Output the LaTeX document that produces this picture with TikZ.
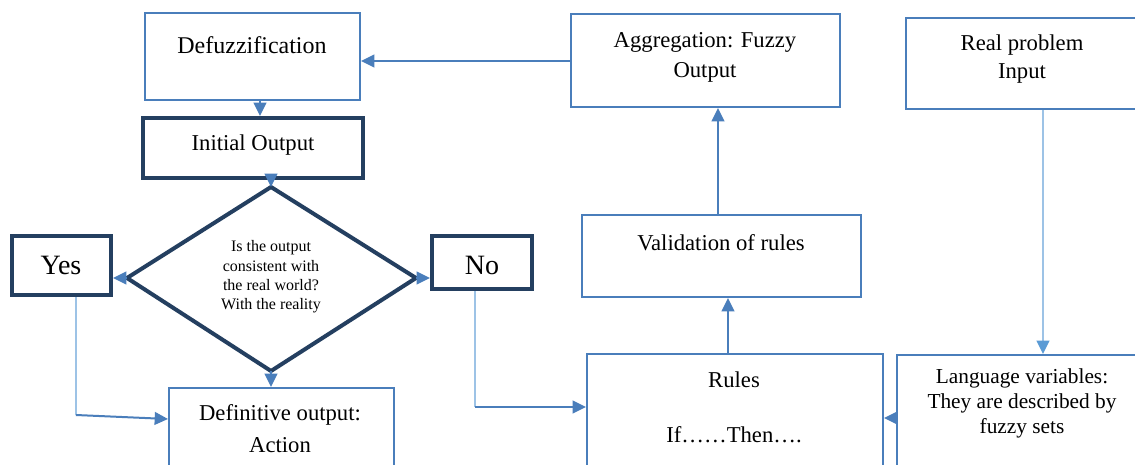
\documentclass[tikz,border=0pt]{standalone}
\usepackage{fontspec}
\setmainfont{Liberation Serif}
\usetikzlibrary{arrows.meta,fit,calc}
\definecolor{boxblue}{HTML}{4A7EBB}
\definecolor{darknavy}{HTML}{243F60}
\definecolor{arrowblue}{HTML}{4A7EBB}
\definecolor{lightblue}{HTML}{9DC3E6}
\definecolor{lighthead}{HTML}{5B9BD5}
\tikzset{
  thinbox/.style={draw=boxblue, line width=1.5pt, inner sep=0pt},
  thickbox/.style={draw=darknavy, line width=3pt, inner sep=0pt},
  thickdia/.style={draw=darknavy, line width=3pt, line join=miter},
  txt/.style={font=\fontsize{17}{20}\selectfont, inner sep=0pt, align=center},
  dtxt/.style={font=\fontsize{12}{14.5}\selectfont, inner sep=0pt, align=center},
  bigtxt/.style={font=\fontsize{21}{24}\selectfont, inner sep=0pt},
  arr/.style={draw=arrowblue, line width=1.5pt, -{Triangle[length=10pt,width=9.5pt]}},
  lightln/.style={draw=lightblue, line width=1.3pt},
  lightarr/.style={draw=lightblue, line width=1.3pt, -{Triangle[length=10pt,width=9.5pt,color=lighthead]}},
}
\begin{document}
\begin{tikzpicture}[x=0.75pt,y=-0.75pt]
\useasboundingbox (0,0) rectangle (1135,464);
\clip (0,0) rectangle (1135,464);
\fill[white] (0,0) rectangle (1135,464);

% boxes
\node[thinbox, fit={(145,13) (360,100)}] (defz) {};
\node[thickbox, fit={(143,118) (363,178)}] (init) {};
\node[thinbox, fit={(571,14) (840,107)}] (agg) {};
\node[thinbox, fit={(906,18) (1150,109)}] (real) {};
\node[thinbox, fit={(582,215) (861,297)}] (valid) {};
\node[thinbox, fit={(587,354) (883,480)}] (rules) {};
\node[thinbox, fit={(897,355) (1150,480)}] (lang) {};
\node[thickbox, fit={(12,236) (111,295)}] (yes) {};
\node[thickbox, fit={(432,236) (532,289)}] (no) {};
\node[thinbox, fit={(169,388) (394,480)}] (def) {};

% diamond
\coordinate (dtop) at (271,187);
\coordinate (dbot) at (271,371);
\coordinate (dleft) at (127,278);
\coordinate (dright) at (416,278);
\draw[thickdia] (dtop) -- (dright) -- (dbot) -- (dleft) -- cycle;

% texts
\node[txt, font=\fontsize{18}{20}\selectfont] (tdefz) at (252,45) {Defuzzification};
\node[txt] (tinit) at (253,145) {Initial Output};
\node[txt, font=\fontsize{17}{22.5}\selectfont] (tagg) at (705,57) {Aggregation: Fuzzy\\Output};
\node[txt, font=\fontsize{17}{21}\selectfont] (treal) at (1022,59) {Real problem\\Input};
\node[txt] (tvalid) at (721,243) {Validation of rules};
\node[txt, font=\fontsize{17}{41.25}\selectfont] (trules) at (734,407.5) {Rules\\If……Then….};
\node[txt, font=\fontsize{16}{18.75}\selectfont] (tlang) at (1022,403) {Language variables:\\They are described by\\fuzzy sets};
\node[txt, font=\fontsize{17}{24}\selectfont] (tdef) at (280,429) {Definitive output:\\Action};
\node[bigtxt] (tyes) at (61,265) {Yes};
\node[bigtxt] (tno) at (482,265) {No};
\node[dtxt] (q) at (271,277) {Is the output\\consistent with\\the real world?\\With the reality};

% connectors
\coordinate (h1) at (0,61);
\draw[arr] (agg.west |- h1) -- (defz.east |- h1);
\coordinate (v1) at (260,0);
\draw[arr] (defz.south -| v1) -- (init.north -| v1);
\draw[arr] (init.south -| dtop) -- (dtop);
\draw[arr] (dleft) -- (yes.east |- dleft);
\draw[arr] (dright) -- (no.west |- dright);
\draw[arr] (dbot) -- (def.north -| dbot);
\coordinate (yv) at (76,415);
\coordinate (yh) at (0,419);
\draw[lightln] (yes.south -| yv) -- (yv);
\draw[arr] (yv) -- (def.west |- yh);
\coordinate (nv) at (475,407);
\draw[lightln] (no.south -| nv) -- (nv);
\draw[arr] (nv) -- (rules.west |- nv);
\coordinate (v2) at (728,0);
\draw[arr] (rules.north -| v2) -- (valid.south -| v2);
\coordinate (v3) at (718,0);
\draw[arr] (valid.north -| v3) -- (agg.south -| v3);
\coordinate (v4) at (1043,0);
\draw[lightarr] (real.south -| v4) -- (lang.north -| v4);
\coordinate (h2) at (0,418);
\draw[arr] (lang.west |- h2) -- (rules.east |- h2);
\end{tikzpicture}
\end{document}
